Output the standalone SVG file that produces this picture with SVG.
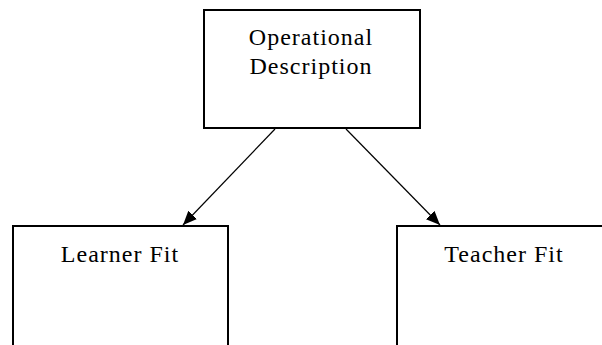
<svg xmlns="http://www.w3.org/2000/svg" width="602" height="345" viewBox="0 0 602 345">
<style>
.box{fill:#fff;stroke:#000;stroke-width:2}
.lbl{font-family:"Liberation Serif","Times New Roman",serif;font-size:24px;letter-spacing:1px;fill:#000;text-anchor:middle}
.conn{stroke:#000;stroke-width:1.2;fill:none;marker-end:url(#ah)}
</style>
<defs>
<marker id="ah" viewBox="0 0 14 12" refX="14" refY="6" markerWidth="14" markerHeight="12" markerUnits="userSpaceOnUse" orient="auto">
<path d="M0,0 L14,6 L0,12 Z" fill="#000"/>
</marker>
</defs>
<rect width="602" height="345" fill="#fff"/>
<g id="connectors">
<line class="conn" x1="275" y1="129" x2="183" y2="225"/>
<line class="conn" x1="346" y1="129" x2="440" y2="225"/>
</g>
<g id="operational">
<rect class="box" x="204" y="10" width="216" height="118"/>
<text class="lbl" x="311" y="45">Operational</text>
<text class="lbl" x="311" y="74">Description</text>
</g>
<g id="learner">
<rect class="box" x="13" y="226" width="215" height="130"/>
<text class="lbl" x="120" y="262">Learner Fit</text>
</g>
<g id="teacher">
<rect class="box" x="397" y="226" width="220" height="130"/>
<text class="lbl" x="504" y="262">Teacher Fit</text>
</g>
</svg>
